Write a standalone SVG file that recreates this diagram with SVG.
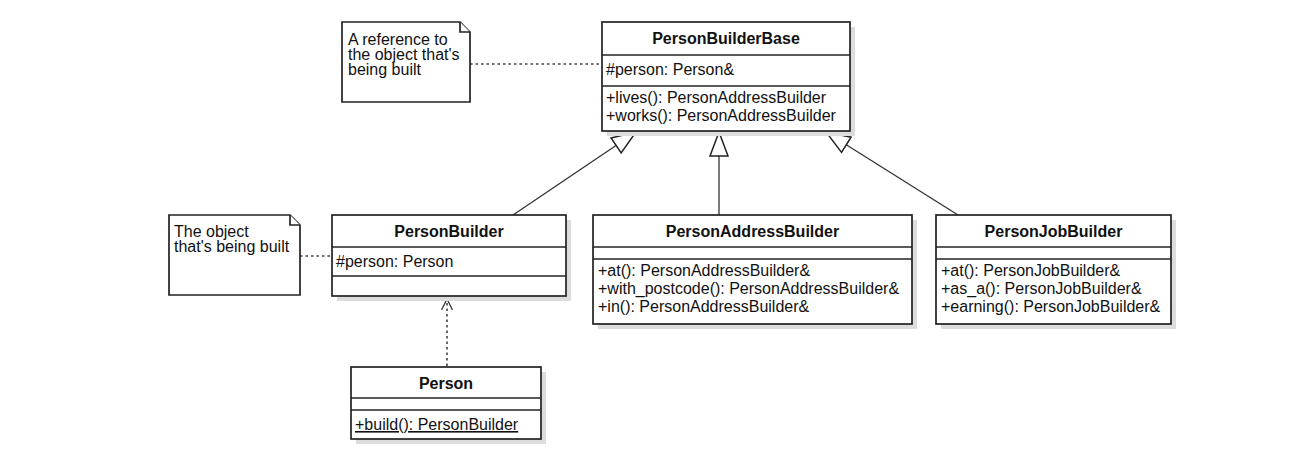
<svg xmlns="http://www.w3.org/2000/svg" width="1298" height="468" viewBox="0 0 1298 468">
<defs>
<style>
.box{fill:#fff;stroke:#222;stroke-width:1.7}
.shadow{fill:#dcdcdc}
.div{stroke:#222;stroke-width:1.7}
.t{font-family:"Liberation Sans",Arial,sans-serif;font-size:16px;fill:#111}
.b{font-weight:bold;text-anchor:middle}
.note{fill:#fff;stroke:#222;stroke-width:1.7;stroke-linejoin:miter}
.line{stroke:#333;stroke-width:1.3;fill:none}
.dot{stroke:#444;stroke-width:1.6;stroke-dasharray:2.5 3;fill:none}
</style>
<marker id="gen" viewBox="0 0 25 20" refX="25" refY="10" markerWidth="25" markerHeight="20" markerUnits="userSpaceOnUse" orient="auto">
<path d="M1,1 L25,10 L1,19 Z" fill="#fff" stroke="#222" stroke-width="1.5"/>
</marker>
<marker id="dep" viewBox="0 0 12 12" refX="11" refY="6" markerWidth="12" markerHeight="12" markerUnits="userSpaceOnUse" orient="auto">
<path d="M0,0.5 L11,6 L0,11.5" fill="none" stroke="#444" stroke-width="1.4" stroke-dasharray="none"/>
</marker>
</defs>
<rect width="1298" height="468" fill="#fff"/>

<g id="connectors">
<line class="dot" x1="470" y1="64" x2="602" y2="64"/>
<line class="dot" x1="300" y1="256" x2="332" y2="256"/>
<line class="line" x1="513" y1="215" x2="636" y2="132" marker-end="url(#gen)"/>
<line class="line" x1="719" y1="215" x2="719" y2="132" marker-end="url(#gen)"/>
<line class="line" x1="958" y1="215" x2="826" y2="132" marker-end="url(#gen)"/>
<line class="dot" x1="447" y1="366" x2="447" y2="299" marker-end="url(#dep)"/>
</g>

<g id="note-reference">
<path class="note" d="M342,22 H460 L470,32 V102 H342 Z"/>
<path class="note" d="M460,22 V32 H470" fill="none"/>
<text class="t" x="348" y="45">A reference to</text>
<text class="t" x="348" y="60">the object that's</text>
<text class="t" x="348" y="75">being built</text>
</g>

<g id="PersonBuilderBase">
<rect class="shadow" x="607" y="27" width="248" height="109"/>
<rect class="box" x="602" y="22" width="248" height="109"/>
<line class="div" x1="602" y1="55" x2="850" y2="55"/>
<line class="div" x1="602" y1="86" x2="850" y2="86"/>
<text class="t b" x="726" y="44">PersonBuilderBase</text>
<text class="t" x="606" y="75">#person: Person&amp;</text>
<text class="t" x="606" y="103">+lives(): PersonAddressBuilder</text>
<text class="t" x="606" y="121">+works(): PersonAddressBuilder</text>
</g>

<g id="note-object">
<path class="note" d="M169,215 H290 L300,225 V295 H169 Z"/>
<path class="note" d="M290,215 V225 H300" fill="none"/>
<text class="t" x="174" y="237">The object</text>
<text class="t" x="174" y="252">that's being built</text>
</g>

<g id="PersonBuilder">
<rect class="shadow" x="337" y="220" width="234" height="81"/>
<rect class="box" x="332" y="215" width="234" height="81"/>
<line class="div" x1="332" y1="247" x2="566" y2="247"/>
<line class="div" x1="332" y1="276" x2="566" y2="276"/>
<text class="t b" x="449" y="237">PersonBuilder</text>
<text class="t" x="336" y="267">#person: Person</text>
</g>

<g id="PersonAddressBuilder">
<rect class="shadow" x="598" y="220" width="319" height="109"/>
<rect class="box" x="593" y="215" width="319" height="109"/>
<line class="div" x1="593" y1="247" x2="912" y2="247"/>
<line class="div" x1="593" y1="259" x2="912" y2="259"/>
<text class="t b" x="752.5" y="237">PersonAddressBuilder</text>
<text class="t" x="598" y="276">+at(): PersonAddressBuilder&amp;</text>
<text class="t" x="598" y="294">+with_postcode(): PersonAddressBuilder&amp;</text>
<text class="t" x="598" y="312">+in(): PersonAddressBuilder&amp;</text>
</g>

<g id="PersonJobBuilder">
<rect class="shadow" x="941" y="220" width="235" height="109"/>
<rect class="box" x="936" y="215" width="235" height="109"/>
<line class="div" x1="936" y1="247" x2="1171" y2="247"/>
<line class="div" x1="936" y1="259" x2="1171" y2="259"/>
<text class="t b" x="1053.5" y="237">PersonJobBuilder</text>
<text class="t" x="941" y="276">+at(): PersonJobBuilder&amp;</text>
<text class="t" x="941" y="294">+as_a(): PersonJobBuilder&amp;</text>
<text class="t" x="941" y="312">+earning(): PersonJobBuilder&amp;</text>
</g>

<g id="Person">
<rect class="shadow" x="356" y="372" width="190" height="72"/>
<rect class="box" x="351" y="367" width="190" height="72"/>
<line class="div" x1="351" y1="398" x2="541" y2="398"/>
<line class="div" x1="351" y1="410" x2="541" y2="410"/>
<text class="t b" x="446" y="389">Person</text>
<text class="t" x="355" y="430" text-decoration="underline">+build(): PersonBuilder</text>
</g>
</svg>
